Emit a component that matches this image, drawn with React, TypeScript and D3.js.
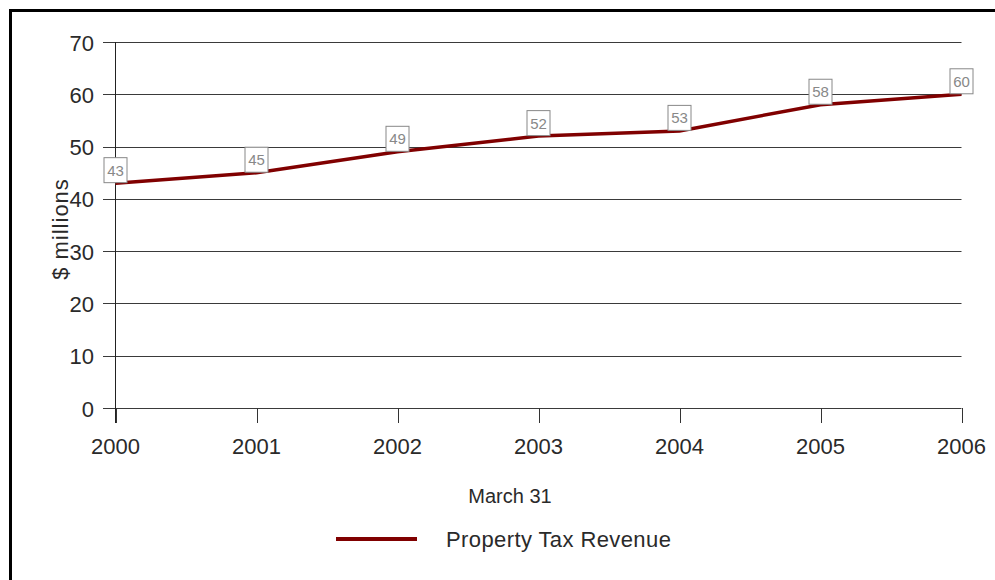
import { useEffect, useRef } from 'react'
import * as d3 from 'd3'

const years = ['2000', '2001', '2002', '2003', '2004', '2005', '2006']
const revenue = [43, 45, 49, 52, 53, 58, 60]
const yTicks = [0, 10, 20, 30, 40, 50, 60, 70]
const seriesName = 'Property Tax Revenue'
const xTitle = 'March 31'
const yTitle = '$ millions'

const width = 995
const height = 580
const font = '"Liberation Sans", Arial, sans-serif'

const App = () => {
  const svgRef = useRef<SVGSVGElement>(null)

  useEffect(() => {
    const svg = d3.select(svgRef.current)
    svg.selectAll('*').remove()

    const x = d3.scalePoint<string>().domain(years).range([115.5, 961.5])
    const y = d3.scaleLinear().domain([0, 70]).range([408, 42])

    // frame (top + left only)
    svg.append('rect').attr('x', 9).attr('y', 9).attr('width', 986).attr('height', 3).attr('fill', '#000')
    svg.append('rect').attr('x', 9).attr('y', 9).attr('width', 3).attr('height', 571).attr('fill', '#000')

    // grid lines + y labels
    const grid = svg.append('g')
    grid
      .selectAll('line')
      .data(yTicks)
      .join('line')
      .attr('x1', 103)
      .attr('x2', 961.5)
      .attr('y1', (d) => Math.round(y(d)) + 0.5)
      .attr('y2', (d) => Math.round(y(d)) + 0.5)
      .attr('stroke', '#3a3a3a')
      .attr('stroke-width', 1)
    grid
      .selectAll('text')
      .data(yTicks)
      .join('text')
      .attr('x', 94)
      .attr('y', (d) => y(d) + 8.5)
      .attr('text-anchor', 'end')
      .style('font-family', font)
      .style('font-size', '22px')
      .attr('fill', '#2a2a2a')
      .text((d) => d)

    // y axis line
    svg
      .append('line')
      .attr('x1', 115.5)
      .attr('x2', 115.5)
      .attr('y1', 42)
      .attr('y2', 423)
      .attr('stroke', '#222')

    // x ticks + labels
    const xg = svg.append('g')
    xg.selectAll('line')
      .data(years)
      .join('line')
      .attr('x1', (d) => Math.round(x(d)!) + 0.5)
      .attr('x2', (d) => Math.round(x(d)!) + 0.5)
      .attr('y1', 408)
      .attr('y2', 423)
      .attr('stroke', '#333')
    xg.selectAll('text')
      .data(years)
      .join('text')
      .attr('x', (d) => x(d)!)
      .attr('y', 453.5)
      .attr('text-anchor', 'middle')
      .style('font-family', font)
      .style('font-size', '22px')
      .attr('fill', '#2a2a2a')
      .text((d) => d)

    // axis titles
    svg
      .append('text')
      .attr('x', 510)
      .attr('y', 503)
      .attr('text-anchor', 'middle')
      .style('font-family', font)
      .style('font-size', '20px')
      .attr('fill', '#2a2a2a')
      .text(xTitle)
    svg
      .append('text')
      .attr('transform', 'translate(68,229) rotate(-90)')
      .attr('text-anchor', 'middle')
      .style('font-family', font)
      .style('font-size', '22px')
      .style('letter-spacing', '1px')
      .attr('fill', '#2a2a2a')
      .text(yTitle)

    // line
    const line = d3
      .line<number>()
      .x((_, i) => x(years[i])!)
      .y((d) => y(d))
    svg
      .append('path')
      .datum(revenue)
      .attr('d', line)
      .attr('fill', 'none')
      .attr('stroke', '#800000')
      .attr('stroke-width', 3.5)

    // value labels
    const lab = svg
      .append('g')
      .selectAll('g')
      .data(revenue)
      .join('g')
      .attr('transform', (d, i) => `translate(${x(years[i])},${y(d)})`)
    lab
      .append('rect')
      .attr('x', -11.5)
      .attr('y', -25.5)
      .attr('width', 23)
      .attr('height', 25)
      .attr('fill', '#fff')
      .attr('stroke', '#888')
    lab
      .append('text')
      .attr('x', 0)
      .attr('y', -7.5)
      .attr('text-anchor', 'middle')
      .style('font-family', font)
      .style('font-size', '15px')
      .attr('fill', '#888')
      .text((d) => d)

    // legend
    svg
      .append('line')
      .attr('x1', 336)
      .attr('x2', 417)
      .attr('y1', 539)
      .attr('y2', 539)
      .attr('stroke', '#800000')
      .attr('stroke-width', 4)
    svg
      .append('text')
      .attr('x', 446)
      .attr('y', 547)
      .style('font-family', font)
      .style('font-size', '22px')
      .style('letter-spacing', '0.4px')
      .attr('fill', '#2a2a2a')
      .text(seriesName)
  }, [])

  return (
    <svg
      ref={svgRef}
      width={width}
      height={height}
      style={{ position: 'absolute', left: 0, top: 0, background: '#fff' }}
    />
  )
}

export default App
